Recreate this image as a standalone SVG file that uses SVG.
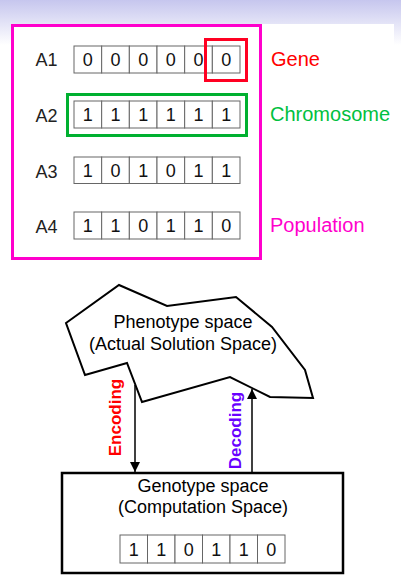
<svg xmlns="http://www.w3.org/2000/svg" width="401" height="580" viewBox="0 0 401 580">
<defs>
<linearGradient id="bg" x1="0" y1="0" x2="0" y2="1">
<stop offset="0" stop-color="#c6c6ee"/>
<stop offset="1" stop-color="#ffffff"/>
</linearGradient>
<marker id="ah" viewBox="0 0 10 10" refX="10" refY="5" markerWidth="10" markerHeight="10" markerUnits="userSpaceOnUse" orient="auto">
<path d="M0,0 L10,5 L0,10 Z" fill="#000"/>
</marker>
<style>
text{font-family:"Liberation Sans",Arial,sans-serif;}
.cell{fill:#fff;stroke:#666;stroke-width:1;}
.d{font-size:18px;fill:#111;text-anchor:middle;}
.lab{font-size:18px;fill:#222;text-anchor:middle;}
.big{font-size:20px;}
.sp{font-size:18px;fill:#000;text-anchor:middle;}
.vl{font-size:17px;font-weight:bold;text-anchor:middle;}
</style>
</defs>
<rect x="0" y="0" width="401" height="580" fill="#fff"/>
<rect x="0" y="0" width="401" height="45" fill="url(#bg)"/>
<rect x="262" y="24" width="132" height="21" fill="#fff"/>
<rect x="14" y="27" width="246" height="18" fill="#fff"/>

<g id="population">
<rect x="12.5" y="25.5" width="248" height="233" fill="none" stroke="#ff00cc" stroke-width="3"/>
<text x="270" y="232" class="big" fill="#ff00cc">Population</text>
</g>

<g id="row-A1">
<text x="46.5" y="66" class="lab">A1</text>
<rect x="74" y="46" width="27.67" height="27" class="cell"/>
<rect x="101.67" y="46" width="27.67" height="27" class="cell"/>
<rect x="129.33" y="46" width="27.67" height="27" class="cell"/>
<rect x="157" y="46" width="27.67" height="27" class="cell"/>
<rect x="184.67" y="46" width="27.67" height="27" class="cell"/>
<rect x="212.33" y="46" width="27.67" height="27" class="cell"/>
<text x="87.8" y="66" class="d">0</text>
<text x="115.5" y="66" class="d">0</text>
<text x="143.2" y="66" class="d">0</text>
<text x="170.8" y="66" class="d">0</text>
<text x="198.5" y="66" class="d">0</text>
<text x="226.2" y="66" class="d">0</text>
</g>

<g id="gene">
<rect x="205.5" y="39.5" width="41" height="41" fill="none" stroke="#ff0022" stroke-width="3"/>
<text x="271" y="66" class="big" fill="#ff0000">Gene</text>
</g>

<g id="row-A2">
<text x="46.5" y="121.5" class="lab">A2</text>
<rect x="74" y="101" width="27.67" height="27" class="cell"/>
<rect x="101.67" y="101" width="27.67" height="27" class="cell"/>
<rect x="129.33" y="101" width="27.67" height="27" class="cell"/>
<rect x="157" y="101" width="27.67" height="27" class="cell"/>
<rect x="184.67" y="101" width="27.67" height="27" class="cell"/>
<rect x="212.33" y="101" width="27.67" height="27" class="cell"/>
<text x="87.8" y="121" class="d">1</text>
<text x="115.5" y="121" class="d">1</text>
<text x="143.2" y="121" class="d">1</text>
<text x="170.8" y="121" class="d">1</text>
<text x="198.5" y="121" class="d">1</text>
<text x="226.2" y="121" class="d">1</text>
</g>

<g id="chromosome">
<rect x="67.5" y="94.5" width="179" height="41" fill="none" stroke="#00b030" stroke-width="3"/>
<text x="270" y="121" class="big" fill="#00c040">Chromosome</text>
</g>

<g id="row-A3">
<text x="46.5" y="177.5" class="lab">A3</text>
<rect x="74" y="157" width="27.67" height="26.5" class="cell"/>
<rect x="101.67" y="157" width="27.67" height="26.5" class="cell"/>
<rect x="129.33" y="157" width="27.67" height="26.5" class="cell"/>
<rect x="157" y="157" width="27.67" height="26.5" class="cell"/>
<rect x="184.67" y="157" width="27.67" height="26.5" class="cell"/>
<rect x="212.33" y="157" width="27.67" height="26.5" class="cell"/>
<text x="87.8" y="177" class="d">1</text>
<text x="115.5" y="177" class="d">0</text>
<text x="143.2" y="177" class="d">1</text>
<text x="170.8" y="177" class="d">0</text>
<text x="198.5" y="177" class="d">1</text>
<text x="226.2" y="177" class="d">1</text>
</g>

<g id="row-A4">
<text x="46.5" y="232.5" class="lab">A4</text>
<rect x="74" y="212" width="27.67" height="27" class="cell"/>
<rect x="101.67" y="212" width="27.67" height="27" class="cell"/>
<rect x="129.33" y="212" width="27.67" height="27" class="cell"/>
<rect x="157" y="212" width="27.67" height="27" class="cell"/>
<rect x="184.67" y="212" width="27.67" height="27" class="cell"/>
<rect x="212.33" y="212" width="27.67" height="27" class="cell"/>
<text x="87.8" y="232" class="d">1</text>
<text x="115.5" y="232" class="d">1</text>
<text x="143.2" y="232" class="d">0</text>
<text x="170.8" y="232" class="d">1</text>
<text x="198.5" y="232" class="d">1</text>
<text x="226.2" y="232" class="d">0</text>
</g>

<g id="phenotype">
<polygon points="66,323 119,285 167,306 236,297 272,327 305,370 313,398 270,397 230,377 142,402 127,363 85,375" fill="#fff" stroke="#000" stroke-width="2" stroke-linejoin="miter"/>
<text x="183" y="328" class="sp">Phenotype space</text>
<text x="183" y="350" class="sp">(Actual Solution Space)</text>
</g>

<g id="genotype">
<rect x="62" y="473" width="281" height="100" fill="#fff" stroke="#000" stroke-width="2.5"/>
<text x="203" y="492" class="sp">Genotype space</text>
<text x="203" y="513" class="sp">(Computation Space)</text>
<rect x="120" y="535" width="27.5" height="28" class="cell"/>
<rect x="147.5" y="535" width="27.5" height="28" class="cell"/>
<rect x="175" y="535" width="27.5" height="28" class="cell"/>
<rect x="202.5" y="535" width="27.5" height="28" class="cell"/>
<rect x="230" y="535" width="27.5" height="28" class="cell"/>
<rect x="257.5" y="535" width="27.5" height="28" class="cell"/>
<text x="133.75" y="556" class="d">1</text>
<text x="161.25" y="556" class="d">1</text>
<text x="188.75" y="556" class="d">0</text>
<text x="216.25" y="556" class="d">1</text>
<text x="243.75" y="556" class="d">1</text>
<text x="271.25" y="556" class="d">0</text>
</g>

<g id="connectors">
<line x1="135" y1="385" x2="135" y2="472" stroke="#000" stroke-width="1.5" marker-end="url(#ah)"/>
<line x1="252" y1="473" x2="252" y2="389" stroke="#000" stroke-width="1.5" marker-end="url(#ah)"/>
<text transform="translate(121,417.5) rotate(-90)" class="vl" fill="#ff0000">Encoding</text>
<text transform="translate(241,430.5) rotate(-90)" class="vl" fill="#6a00ff">Decoding</text>
</g>
</svg>
